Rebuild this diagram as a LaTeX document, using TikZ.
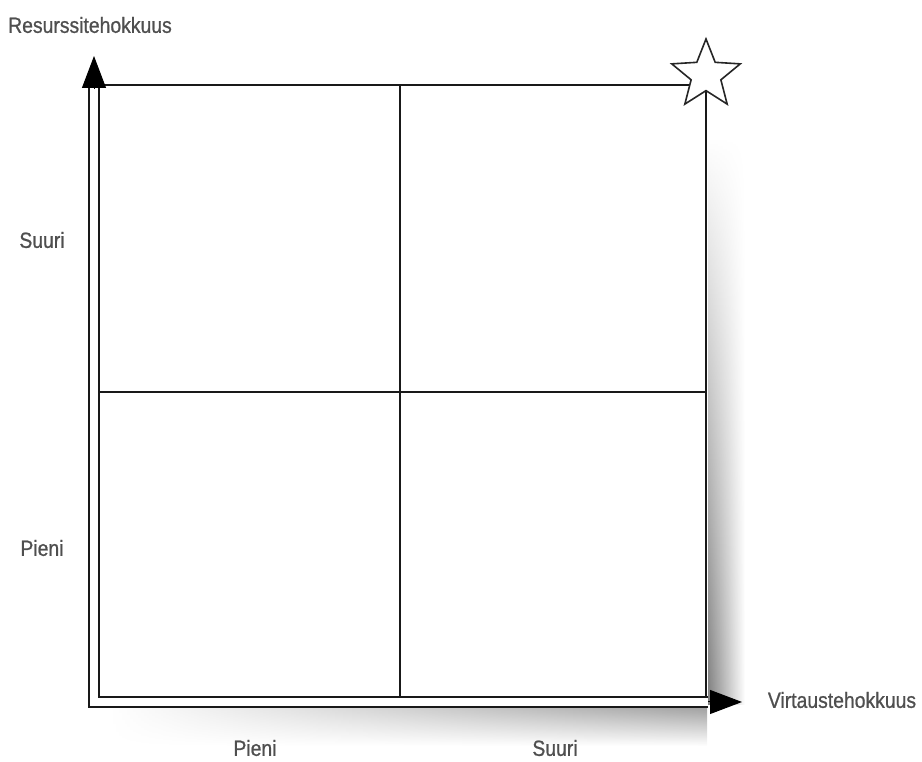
\documentclass[tikz,border=0pt]{standalone}
\usepackage{fontspec}
\newfontfamily\axisfont[FakeStretch=0.88, FakeBold=0.8]{Liberation Sans}
\usepackage{tikz}
\usetikzlibrary{arrows.meta, shapes.geometric, fadings}
\definecolor{lblgray}{HTML}{4F4F4F}
\tikzfading[name=shadowfadev, top color=transparent!100, middle color=transparent!0, bottom color=transparent!0]
\tikzfading[name=shadowfadeh, left color=transparent!100, middle color=transparent!0, right color=transparent!15]

\begin{document}
\begin{tikzpicture}[x=1pt, y=1pt,
  lbl/.style={font=\axisfont\fontsize{22}{24}\selectfont, text=lblgray, inner sep=0pt},
  gridline/.style={line width=2.2pt, black!90},
  axisline/.style={double, double distance=8pt, line width=2.3pt, draw=black!90},
  axistip/.style={-{Triangle[length=32pt, width=24pt]}, line width=1pt}]
\useasboundingbox (0,0) rectangle (922,762);
% soft shadows right of and below the square
\shade[left color=black!50, right color=white, path fading=shadowfadev] (708,58) rectangle (745,625);
\shade[top color=black!45, bottom color=white, path fading=shadowfadeh] (110,16) rectangle (708,56);
% corners of the square
\coordinate (O) at (94,60);
\coordinate (tl) at (94,677);
\coordinate (tr) at (706,677);
\coordinate (br) at (706,60);
\coordinate (mt) at (400,677);
\coordinate (mb) at (400,60);
\coordinate (ml) at (94,370);
\coordinate (mr) at (706,370);
% axis ends
\coordinate (ybase) at (94,674);
\coordinate (ytip) at (94,706);
\coordinate (xbase) at (708,60);
\coordinate (xtip) at (742,60);
% quadrant lines
\draw[gridline] (tl) -- (tr) -- (br);
\draw[gridline] (mt) -- (mb);
\draw[gridline] (ml) -- (mr);
% axes
\draw[axisline] (ybase) -- (O) -- (xbase);
\draw[axistip] (ybase) -- (ytip);
\draw[axistip] (xbase) -- (xtip);
% star in the top right corner
\node[star, star points=5, star point ratio=2.3, minimum size=72pt, inner sep=0pt,
  draw=black!85, fill=white, line width=1.6pt] (goal) at (706,687) {};
% labels
\node[lbl] (yaxis) at (90,737) {Resurssitehokkuus};
\node[lbl] (yhigh) at (42,522) {Suuri};
\node[lbl] (ylow) at (42,214) {Pieni};
\node[lbl] (xlow) at (255,14) {Pieni};
\node[lbl] (xhigh) at (555,14) {Suuri};
\node[lbl] (xaxis) at (842,62) {Virtaustehokkuus};
\end{tikzpicture}
\end{document}
